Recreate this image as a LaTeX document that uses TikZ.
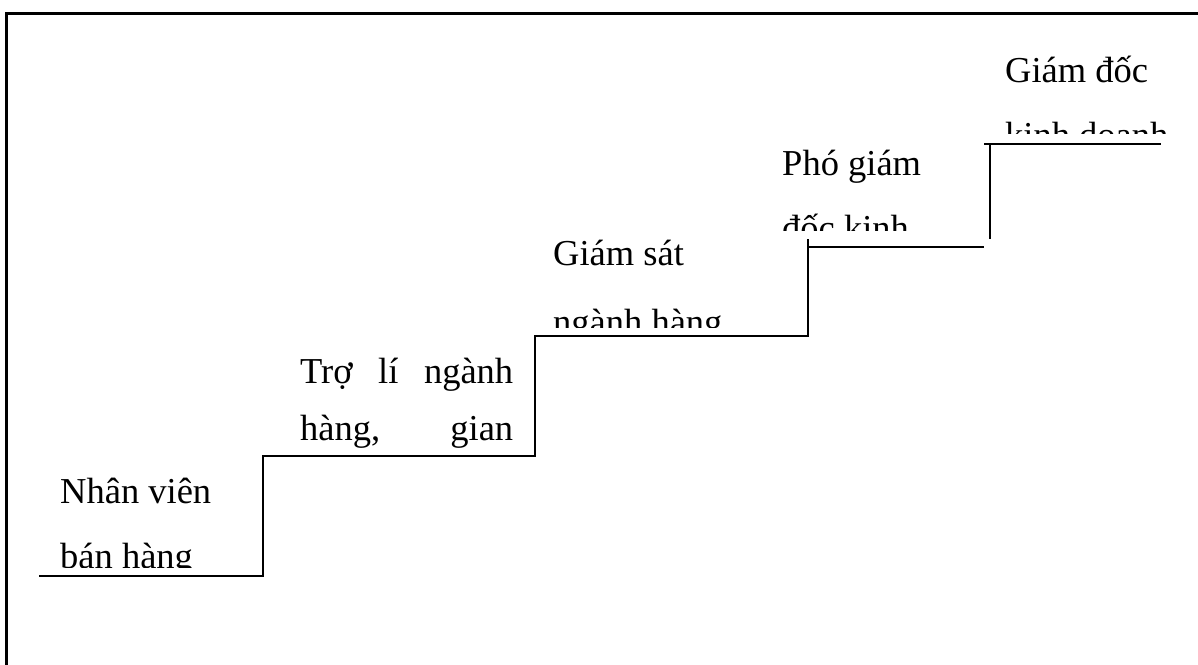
\documentclass[tikz,border=0pt]{standalone}
\usepackage{fontspec}
\setmainfont{Liberation Serif}
\usetikzlibrary{positioning}

\begin{document}
\begin{tikzpicture}[line cap=rect,line join=miter,x=1pt,y=-1pt,
  rung/.style={anchor=base west,inner sep=0pt,font=\fontsize{36.5}{44}\selectfont},
  stair/.style={line width=1.6pt}]
\useasboundingbox (0,0) rectangle (1198,664);
% khung
\draw [line width=2.2pt] (6.5,664) -- (6.5,13.5) -- (1198,13.5);
% bac thang
\draw [stair] (40,576) -- (263,576) -- (263,456);
\draw [stair] (263,456) -- (535,456) -- (535,336);
\draw [stair] (535,336) -- (808,336) -- (808,240);
\draw [stair] (808,247) -- (983,247);
\draw [stair] (990,238) -- (990,144);
\draw [stair] (985,144) -- (1160,144);
% cac chuc danh
\begin{scope}
\clip (40,440) rectangle (262,567);
\node [rung] (nv1) at (60,503) {Nhân viên};
\node [rung] (nv2) at (60,568) {bán hàng};
\end{scope}
\begin{scope}
\clip (280,320) rectangle (534,454);
\node [rung] (tl1) at (300,383) {\hbox to 213pt{Trợ\hfill lí\hfill ngành}};
\node [rung] (tl2) at (300,440) {\hbox to 213pt{hàng,\hfill gian}};
\end{scope}
\begin{scope}
\clip (540,200) rectangle (806,327);
\node [rung] (gs1) at (553,265) {Giám sát};
\node [rung] (gs2) at (553,334) {ngành hàng.};
\end{scope}
\begin{scope}
\clip (770,110) rectangle (988,230);
\node [rung] (pg1) at (782,175) {Phó giám};
\node [rung] (pg2) at (782,240) {đốc kinh};
\end{scope}
\begin{scope}
\clip (995,20) rectangle (1198,133);
\node [rung] (gd1) at (1005,82) {Giám đốc};
\node [rung] (gd2) at (1005,147) {kinh doanh};
\end{scope}
\end{tikzpicture}
\end{document}
